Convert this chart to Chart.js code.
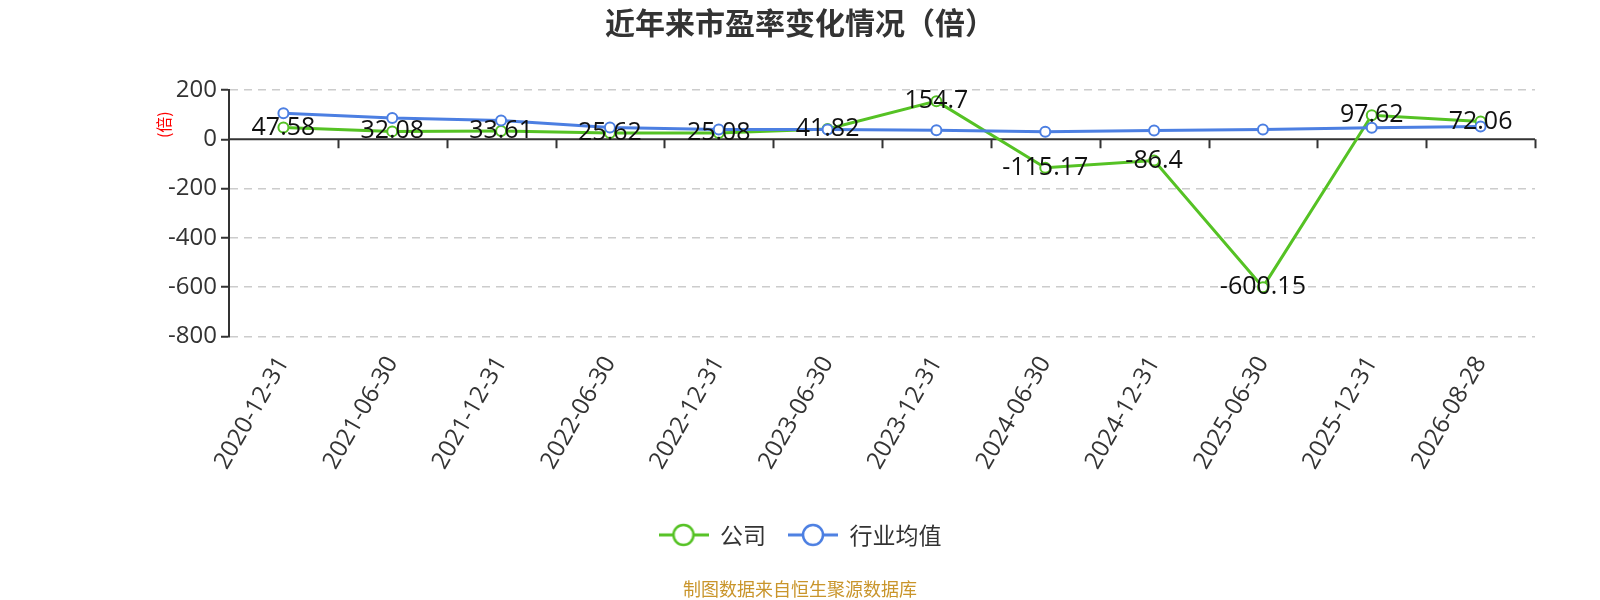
<!DOCTYPE html>
<html>
<head>
<meta charset="utf-8">
<script src="https://cdn.jsdelivr.net/npm/chart.js@4.4.1/dist/chart.umd.min.js"></script>
<style>
  html, body { margin: 0; padding: 0; background: #fff; }
  #wrap { width: 1600px; height: 600px; }
</style>
</head>
<body>
<div id="wrap"><canvas id="peChart"></canvas></div>
<script>
const categories = ['2020-12-31', '2021-06-30', '2021-12-31', '2022-06-30', '2022-12-31', '2023-06-30',
  '2023-12-31', '2024-06-30', '2024-12-31', '2025-06-30', '2025-12-31', '2026-08-28'];
const companyPE = [47.58, 32.08, 33.61, 25.62, 25.08, 41.82, 154.7, -115.17, -86.4, -600.15, 97.62, 72.06];
const industryPE = [106, 86, 76, 48, 40, 40, 37, 31, 36, 40, 47, 52];
const seriesNames = ['公司', '行业均值'];
const yTicks = [200, 0, -200, -400, -600, -800];

const GREEN = '#55c224';
const BLUE = '#4c7fe2';
const FONT = '"Open Sans", "Noto Sans CJK SC", sans-serif';
const CJK = '"Noto Sans CJK SC", "Open Sans", sans-serif';

// 图例标记：横线 + 空心圆
function legendMark(color) {
  const c = document.createElement('canvas');
  c.width = 50; c.height = 26;
  const g = c.getContext('2d');
  g.strokeStyle = color;
  g.lineWidth = 3;
  g.beginPath(); g.moveTo(0, 13); g.lineTo(50, 13); g.stroke();
  g.beginPath(); g.arc(25, 13, 10, 0, Math.PI * 2);
  g.fillStyle = '#fff'; g.fill();
  g.lineWidth = 2.5; g.stroke();
  return c;
}

// 零轴线和刻度
const zeroAxis = {
  id: 'zeroAxis',
  beforeDatasetsDraw(chart) {
    const {ctx, chartArea, scales} = chart;
    const y0 = scales.y.getPixelForValue(0);
    const n = categories.length;
    const step = (chartArea.right - chartArea.left) / n;
    ctx.save();
    ctx.strokeStyle = '#333';
    ctx.lineWidth = 2;
    ctx.beginPath();
    ctx.moveTo(chartArea.left, y0);
    ctx.lineTo(chartArea.right, y0);
    for (let i = 1; i <= n; i++) {
      const x = Math.round(chartArea.left + step * i) + 0.5;
      ctx.moveTo(x, y0);
      ctx.lineTo(x, y0 + 9);
    }
    ctx.stroke();
    ctx.restore();
  }
};

// 数据标签 + 纵轴单位
const valueLabels = {
  id: 'valueLabels',
  afterDatasetsDraw(chart) {
    const {ctx, scales} = chart;
    ctx.save();
    ctx.font = '25px ' + FONT;
    ctx.fillStyle = '#111';
    ctx.textAlign = 'center';
    ctx.textBaseline = 'alphabetic';
    companyPE.forEach((v, i) => {
      const x = scales.x.getPixelForValue(i);
      const y = scales.y.getPixelForValue(v);
      ctx.fillText(String(v), x, y + 7);
    });
    const yTop = scales.y.getPixelForValue(200);
    const yZero = scales.y.getPixelForValue(0);
    ctx.translate(164, (yTop + yZero) / 2 + 10);
    ctx.rotate(-Math.PI / 2);
    ctx.font = '16px ' + CJK;
    ctx.fillStyle = '#ff0000';
    ctx.textBaseline = 'middle';
    ctx.fillText('(倍)', 0, 0);
    ctx.restore();
  }
};

new Chart(document.getElementById('peChart'), {
  type: 'line',
  data: {
    labels: categories,
    datasets: [{
      label: seriesNames[0],
      data: companyPE,
      borderColor: GREEN,
      backgroundColor: '#fff',
      borderWidth: 3,
      pointRadius: 5,
      pointBorderWidth: 2,
      pointBackgroundColor: '#fff',
      pointBorderColor: GREEN,
      tension: 0,
      order: 2
    }, {
      label: seriesNames[1],
      data: industryPE,
      borderColor: BLUE,
      backgroundColor: '#fff',
      borderWidth: 3,
      pointRadius: 5,
      pointBorderWidth: 2,
      pointBackgroundColor: '#fff',
      pointBorderColor: BLUE,
      tension: 0,
      order: 1
    }]
  },
  options: {
    responsive: true,
    maintainAspectRatio: false,
    animation: false,
    layout: { padding: 0 },
    scales: {
      x: {
        offset: true,
        grid: { display: false, drawTicks: false },
        border: { display: false },
        ticks: {
          minRotation: 60,
          maxRotation: 60,
          padding: 15,
          color: '#333',
          font: { family: FONT, size: 24 }
        },
        afterFit(s) { s.height = 165; }
      },
      y: {
        min: -800,
        max: 200,
        afterBuildTicks(s) { s.ticks = yTicks.map(v => ({value: v})); },
        grid: {
          color: ctx => (ctx.tick && ctx.tick.value === 0) ? 'rgba(0,0,0,0)' : '#cccccc',
          lineWidth: 1.5,
          tickColor: '#333',
          tickLength: 8,
          tickWidth: 2
        },
        border: { display: true, color: '#333', width: 2, dash: [8, 6] },
        ticks: {
          padding: 4,
          color: '#333',
          font: { family: FONT, size: 24 }
        },
        afterFit(s) { s.width = 229; }
      },
      yRight: {
        position: 'right',
        min: 0,
        max: 1,
        grid: { display: false, drawTicks: false },
        border: { display: false },
        ticks: { display: false },
        afterFit(s) { s.width = 65; }
      }
    },
    plugins: {
      title: {
        display: true,
        text: '近年来市盈率变化情况（倍）',
        color: '#333',
        font: { family: CJK, size: 30, weight: 'bold' },
        padding: { top: 5, bottom: 49 }
      },
      subtitle: {
        display: true,
        position: 'bottom',
        text: '制图数据来自恒生聚源数据库',
        color: '#c9952b',
        font: { family: CJK, size: 18 },
        padding: { top: 22, bottom: 0 }
      },
      legend: {
        position: 'bottom',
        labels: {
          usePointStyle: true,
          pointStyleWidth: 50,
          boxHeight: 23,
          padding: 22,
          color: '#333',
          font: { family: CJK, size: 23 },
          generateLabels() {
            return [
              { text: seriesNames[0], pointStyle: legendMark(GREEN), fontColor: '#333', strokeStyle: GREEN, fillStyle: '#fff', lineWidth: 0, hidden: false, datasetIndex: 0 },
              { text: seriesNames[1], pointStyle: legendMark(BLUE), fontColor: '#333', strokeStyle: BLUE, fillStyle: '#fff', lineWidth: 0, hidden: false, datasetIndex: 1 }
            ];
          }
        }
      },
      tooltip: { enabled: false }
    }
  },
  plugins: [zeroAxis, valueLabels]
});
</script>
</body>
</html>
